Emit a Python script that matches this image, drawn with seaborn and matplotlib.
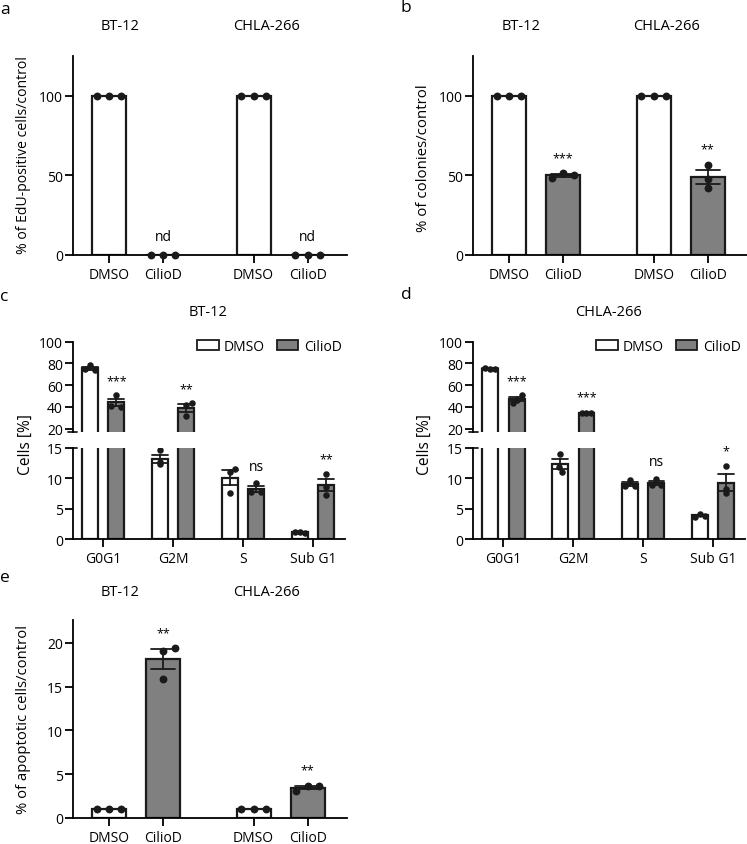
import numpy as np
import pandas as pd
import matplotlib
matplotlib.use("Agg")
import matplotlib.pyplot as plt
import seaborn as sns
from matplotlib.patches import Patch

# ---------------- data ----------------
cell_lines = ["BT-12", "CHLA-266"]
treatments = ["DMSO", "CilioD"]

# panel a: % of EdU-positive cells/control
edu_bt12_dmso = [100, 100, 100]
edu_bt12_ciliod = [0, 0, 0]
edu_chla_dmso = [100, 100, 100]
edu_chla_ciliod = [0, 0, 0]
sig_a = ["nd", "nd"]

# panel b: % of colonies/control
col_bt12_dmso = [100, 100, 100]
col_bt12_ciliod = [48.3, 51.5, 50.2]
col_chla_dmso = [100, 100, 100]
col_chla_ciliod = [56.7, 47.7, 42.0]
sig_b = ["***", "**"]

# panels c/d: cell cycle phases, Cells [%]
phases = ["G0G1", "G2M", "S", "Sub G1"]
cc_bt12_dmso = [[78.5, 74.5, 74.2], [14.6, 12.7, 12.4], [11.5, 11.1, 7.6], [1.1, 1.1, 1.05]]
cc_bt12_ciliod = [[51.0, 41.2, 40.4], [42.0, 43.5, 31.5], [9.2, 7.8, 7.7], [10.7, 8.5, 7.3]]
cc_chla_dmso = [[75.8, 75.3, 74.9], [14.0, 11.9, 11.1], [9.7, 8.8, 8.8], [4.1, 3.7, 3.85]]
cc_chla_ciliod = [[51.0, 46.5, 44.0], [34.8, 34.6, 34.3], [9.9, 8.85, 8.85], [12.1, 8.2, 7.6]]
sig_c = ["***", "**", "ns", "**"]
sig_c_y = [64, 57, 12.0, 13.2]
sig_d = ["***", "***", "ns", "*"]
sig_d_y = [64.5, 49, 12.7, 14.6]

# panel e: % of apoptotic cells/control
apo_bt12_dmso = [1.0, 1.0, 1.0]
apo_bt12_ciliod = [19.1, 19.4, 15.9]
apo_chla_dmso = [1.0, 1.0, 1.0]
apo_chla_ciliod = [3.1, 3.7, 3.6]
sig_e = ["**", "**"]

# ---------------- style ----------------
sns.set_theme(style="ticks")
plt.rcParams['font.family'] = ['Open Sans', 'DejaVu Sans']
plt.rcParams.update({
    "font.size": 10,
    "axes.linewidth": 1.3,
    "xtick.major.width": 1.3, "ytick.major.width": 1.3,
    "xtick.major.size": 5.5, "ytick.major.size": 5.5,
    "xtick.labelsize": 10, "ytick.labelsize": 10,
    "xtick.major.pad": 3.0, "ytick.major.pad": 1.5,
    "axes.labelsize": 10,
    "xtick.color": "black", "ytick.color": "black",
    "axes.edgecolor": "black", "text.color": "black",
})
GREY = "#808080"
PAL = {"DMSO": "white", "CilioD": GREY}

W, H = 747, 845
fig = plt.figure(figsize=(W / 100, H / 100), dpi=100)
FIT = []  # (text artist, target length in px along its direction)


def fax(left, top, right, bottom):
    return fig.add_axes([left / W, 1 - bottom / H, (right - left) / W, (bottom - top) / H])


def ftext(x, y, s, **kw):
    return fig.text(x / W, 1 - y / H, s, ha=kw.pop("ha", "center"), va=kw.pop("va", "center"), **kw)


POS = [0, 1, 2.68, 3.68]
BW = 0.63
TREAT4 = ["DMSO", "CilioD", "DMSO", "CilioD"]
SPREAD = [-0.36, 0, 0.36]


def pair_panel(ax, series, offsets, ylim, yticks, ylabel, sig, sig_y, lab_xy, lab_len):
    rows = []
    for x, tr, vals, offs in zip(POS, TREAT4, series, offsets):
        for v, o in zip(vals, offs):
            rows.append(dict(x=x, treat=tr, value=v, px=x + o * BW))
    df = pd.DataFrame(rows)
    sns.barplot(data=df, x="x", y="value", hue="treat", hue_order=treatments, palette=PAL,
                native_scale=True, dodge=False, width=BW, errorbar="se", capsize=0.45,
                err_kws=dict(color="k", linewidth=1.3), edgecolor="k", linewidth=1.6,
                legend=False, ax=ax)
    sns.scatterplot(data=df, x="px", y="value", color="k", s=32, linewidth=0, ax=ax,
                    zorder=5, clip_on=False, legend=False)
    ax.set_xlim(-0.672, 4.41)
    ax.set_ylim(*ylim)
    ax.set_yticks(yticks)
    ax.set_xticks(POS)
    ax.set_xticklabels(TREAT4)
    ax.set_xlabel("")
    ax.set_ylabel("")
    sns.despine(ax=ax)
    t = ftext(lab_xy[0], lab_xy[1], ylabel, rotation=90, fontsize=10)
    FIT.append((t, lab_len))
    for x, s, y in zip([POS[1], POS[3]], sig, sig_y):
        ax.text(x, y, s, ha="center", va="center", fontsize=10 if s in ("nd", "ns") else 9)


# panel a
ax_a = fax(72.7, 57, 347, 256)
pair_panel(ax_a, [edu_bt12_dmso, edu_bt12_ciliod, edu_chla_dmso, edu_chla_ciliod],
           [SPREAD] * 4, (0, 125), [0, 50, 100], "% of EdU-positive cells/control",
           sig_a, [11.4, 11.4], (24, 155), 197)

# panel b
ax_b = fax(473, 57, 747, 256)
pair_panel(ax_b, [col_bt12_dmso, col_bt12_ciliod, col_chla_dmso, col_chla_ciliod],
           [SPREAD, [-0.33, 0, 0.33], SPREAD, [0, 0, 0]], (0, 125), [0, 50, 100],
           "% of colonies/control", sig_b, [61, 66.6], (424, 158), 147)

# panel e
ax_e = fax(72.7, 621, 347, 819)
pair_panel(ax_e, [apo_bt12_dmso, apo_bt12_ciliod, apo_chla_dmso, apo_chla_ciliod],
           [SPREAD, [0, 0.36, 0], SPREAD, [-0.33, 0, 0.33]], (0, 22.6), [0, 5, 10, 15, 20],
           "% of apoptotic cells/control", sig_e, [21.1, 5.5], (24, 720), 188)

# panels c / d (broken axis)
DODGE = 0.19
BWC = 0.23
LOW_TOP, HIGH_BOT = 16.7, 15
CC_OFFS_BT = [[0, -0.3, 0.3], [0, 0, 0], [0.35, 0, 0], [-0.3, 0, 0.3]]
CC_OFFS_BT_C = [[0, -0.3, 0.3], [0, 0.35, 0], [0, -0.3, 0.3], [0, 0, 0]]
CC_OFFS_CH = [[-0.3, 0, 0.3], [0, -0.05, 0.1], [0, -0.3, 0.3], [0, -0.3, 0.3]]
CC_OFFS_CH_C = [[0.35, 0, -0.2], [-0.3, 0, 0.3], [0, -0.3, 0.3], [0, 0, 0]]


def cc_panel(ax_t, ax_bm, dmso, cilio, offs_d, offs_c, sig, sig_y, legend_xy):
    rows = []
    for i, ph in enumerate(phases):
        for tr, data, offs, sgn in (("DMSO", dmso, offs_d, -1), ("CilioD", cilio, offs_c, 1)):
            for v, o in zip(data[i], offs[i]):
                rows.append(dict(x=i, treat=tr, value=v, px=i + sgn * DODGE + o * BWC))
    df = pd.DataFrame(rows)
    for ax, pts in ((ax_t, df[df.value >= LOW_TOP]), (ax_bm, df[df.value <= HIGH_BOT])):
        sns.barplot(data=df, x="x", y="value", hue="treat", hue_order=treatments, palette=PAL,
                    native_scale=True, dodge=True, width=0.76, gap=0.4, errorbar="se",
                    capsize=0.45, err_kws=dict(color="k", linewidth=1.3), edgecolor="k",
                    linewidth=1.6, legend=False, ax=ax)
        sns.scatterplot(data=pts, x="px", y="value", color="k", s=22, linewidth=0, ax=ax,
                        zorder=5, legend=False)
        ax.set_xlim(-0.433, 3.457)
        ax.set_xlabel("")
        ax.set_ylabel("")
    ax_t.set_ylim(LOW_TOP, 100)
    ax_t.set_yticks([20, 40, 60, 80, 100])
    ax_t.tick_params(bottom=False, labelbottom=False)
    sns.despine(ax=ax_t, bottom=True)
    ax_bm.set_ylim(0, HIGH_BOT)
    ax_bm.set_yticks([0, 5, 10, 15])
    ax_bm.set_xticks(range(len(phases)))
    ax_bm.set_xticklabels(phases)
    sns.despine(ax=ax_bm)
    # break caps
    h = 4.5 / 272
    ax_t.plot([-h, h], [LOW_TOP, LOW_TOP], color="k", lw=1.3,
              transform=ax_t.get_yaxis_transform(), clip_on=False)
    ax_bm.plot([-h, h], [HIGH_BOT, HIGH_BOT], color="k", lw=1.3,
               transform=ax_bm.get_yaxis_transform(), clip_on=False)
    for i, (s, y) in enumerate(zip(sig, sig_y)):
        ax = ax_t if y > LOW_TOP else ax_bm
        ax.text(i + DODGE, y, s, ha="center", va="center",
                fontsize=10 if s in ("nd", "ns") else 9)
    handles = [Patch(facecolor=PAL[t], edgecolor="k", linewidth=1.3) for t in treatments]
    ax_t.legend(handles, treatments, loc="upper left",
                bbox_to_anchor=(legend_xy[0] / W, 1 - legend_xy[1] / H),
                bbox_transform=fig.transFigure, ncol=2, frameon=False, handlelength=1.55,
                handleheight=0.7, handletextpad=0.4, columnspacing=0.85, borderpad=0,
                borderaxespad=0, fontsize=10)


ax_ct = fax(72.7, 342.7, 345, 433.3)
ax_cb = fax(72.7, 449, 345, 540)
cc_panel(ax_ct, ax_cb, cc_bt12_dmso, cc_bt12_ciliod, CC_OFFS_BT, CC_OFFS_BT_C,
         sig_c, sig_c_y, (197, 340))
ax_dt = fax(473, 342.7, 745, 433.3)
ax_db = fax(473, 449, 745, 540)
cc_panel(ax_dt, ax_db, cc_chla_dmso, cc_chla_ciliod, CC_OFFS_CH, CC_OFFS_CH_C,
         sig_d, sig_d_y, (596, 340))

FIT.append((ftext(26, 445, "Cells [%]", rotation=90, fontsize=10), 61))
FIT.append((ftext(425, 445, "Cells [%]", rotation=90, fontsize=10), 61))

# titles
for (x, y), s in zip([(120, 27), (267, 27), (521, 27), (666, 27), (208, 312), (608, 312),
                      (120, 592), (267, 592)],
                     ["BT-12", "CHLA-266", "BT-12", "CHLA-266", "BT-12", "CHLA-266",
                      "BT-12", "CHLA-266"]):
    ftext(x, y, s, fontsize=10.5)

# panel letters
for (x, y), s in zip([(5, 10), (406, 8), (4, 297), (406, 295), (5, 578)], "abcde"):
    ftext(x, y, s, fontsize=12.5)

# fit rotated axis labels to the lengths measured on the reference
fig.canvas.draw()
renderer = fig.canvas.get_renderer()
for t, target in FIT:
    length = t.get_window_extent(renderer).height
    t.set_fontsize(t.get_fontsize() * target / length)

fig.savefig("out.png", dpi=100)
